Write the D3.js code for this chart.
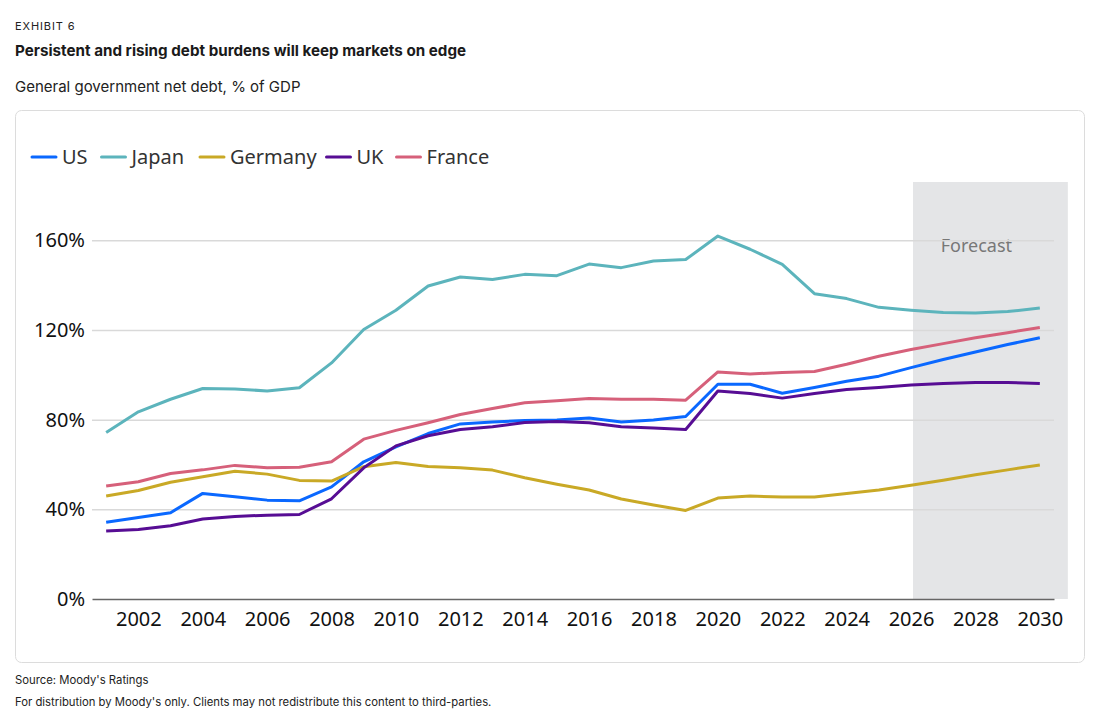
<!DOCTYPE html>
<html>
<head>
<meta charset="utf-8">
<script src="https://cdn.jsdelivr.net/npm/d3@7"></script>
<style>
  body { margin: 0; background: #fff; }
  svg { display: block; }
</style>
</head>
<body>
<svg id="chart"></svg>
<script>
var width = 1100,
    height = 716;

var years = d3.range(2001, 2031);
var seriesNames = ["US", "Japan", "Germany", "UK", "France"];
var seriesColors = ["#0a68ff", "#5cb4bc", "#c9a926", "#570d94", "#d6607a"];

var us = [34.2, 36.4, 38.5, 47.1, 45.6, 44.1, 43.8, 50.0, 61.2, 67.9,
          73.8, 78.1, 78.9, 79.6, 79.8, 80.7, 79.0, 79.8, 81.4, 95.8,
          95.8, 91.8, 94.3, 97.1, 99.4, 103.2, 106.8, 110.2, 113.5, 116.5];
var japan = [74.3, 83.5, 89.1, 93.9, 93.7, 92.8, 94.2, 105.3, 120.2, 128.8,
             139.6, 143.6, 142.5, 144.8, 144.2, 149.4, 147.8, 150.8, 151.4, 161.9,
             156.0, 149.3, 136.2, 134.0, 130.1, 128.8, 127.8, 127.6, 128.2, 129.8];
var germany = [45.9, 48.4, 52.1, 54.5, 57.0, 55.7, 52.9, 52.6, 59.0, 60.9,
               59.1, 58.5, 57.5, 54.1, 51.2, 48.6, 44.6, 41.9, 39.5, 45.0,
               45.9, 45.5, 45.5, 47.1, 48.6, 50.7, 53.0, 55.4, 57.6, 59.8];
var uk = [30.3, 31.0, 32.7, 35.7, 36.8, 37.4, 37.7, 44.7, 58.5, 68.3,
          72.8, 75.6, 76.8, 78.7, 79.2, 78.6, 76.8, 76.3, 75.6, 92.8,
          91.7, 89.6, 91.7, 93.4, 94.3, 95.5, 96.1, 96.6, 96.6, 96.1];
var france = [50.4, 52.3, 56.0, 57.6, 59.6, 58.5, 58.8, 61.2, 71.3, 75.2,
              78.6, 82.3, 85.0, 87.5, 88.4, 89.4, 89.1, 89.1, 88.7, 101.3,
              100.4, 101.0, 101.5, 104.7, 108.3, 111.3, 113.9, 116.5, 118.8, 121.1];

var yTicks = [0, 40, 80, 120, 160];
var xTicks = [2002, 2004, 2006, 2008, 2010, 2012, 2014, 2016, 2018, 2020, 2022, 2024, 2026, 2028, 2030];
var forecastSpan = [2026.06, 2030.87];
var forecastLabelYear = 2028;

var seriesValues = [us, japan, germany, uk, france];
var series = seriesNames.map(function(name, i) {
    return { name: name, color: seriesColors[i],
             values: years.map(function(y, j) { return [y, seriesValues[i][j]]; }) };
});

var svg = d3.select("#chart").attr("width", width).attr("height", height);

// header
var headFont = "Inter, 'Liberation Sans', sans-serif";
svg.append("text").attr("x", 15).attr("y", 29.5)
    .style("font-family", headFont).style("font-size", "11px").style("letter-spacing", "0.9px")
    .style("fill", "#222").text("EXHIBIT 6");
svg.append("text").attr("x", 15).attr("y", 55.5)
    .style("font-family", headFont).style("font-size", "15.2px").style("font-weight", "700")
    .style("fill", "#1a1a1a").text("Persistent and rising debt burdens will keep markets on edge");
svg.append("text").attr("x", 15).attr("y", 92)
    .style("font-family", headFont).style("font-size", "15px")
    .style("fill", "#222").text("General government net debt, % of GDP");

// card
svg.append("rect")
    .attr("x", 15.5).attr("y", 110.5)
    .attr("width", 1069).attr("height", 552)
    .attr("rx", 6)
    .style("fill", "#fff").style("stroke", "#dcdcdc");

// footer
svg.append("text").attr("x", 15).attr("y", 684)
    .style("font-family", headFont).style("font-size", "11.3px")
    .style("fill", "#222").text("Source: Moody's Ratings");
svg.append("text").attr("x", 15).attr("y", 706)
    .style("font-family", headFont).style("font-size", "11.3px")
    .style("fill", "#222").text("For distribution by Moody's only. Clients may not redistribute this content to third-parties.");

var x = d3.scaleLinear().domain([2000.56, 2030.44]).range([92, 1054]);
var y = d3.scaleLinear().domain([0, 186]).range([599, 182]);

var chartFont = "'Noto Sans', 'Open Sans', sans-serif";

// forecast shading
svg.append("rect")
    .attr("x", x(forecastSpan[0]))
    .attr("y", y(186))
    .attr("width", x(forecastSpan[1]) - x(forecastSpan[0]))
    .attr("height", y(0) - y(186))
    .style("fill", "#e4e5e7");
svg.append("text")
    .attr("x", x(forecastLabelYear) + 1)
    .attr("y", y(160) + 5.5)
    .attr("dy", "0.35em")
    .attr("text-anchor", "middle")
    .style("font-family", chartFont).style("font-size", "18px")
    .style("fill", "#777").text("Forecast");

// gridlines + y labels
var yAxis = d3.axisLeft(y).tickValues(yTicks).tickSize(-(1054 - 92))
    .tickFormat(function(d) { return d + "%"; }).tickPadding(7);
var gy = svg.append("g").attr("transform", "translate(92,0)").call(yAxis);
gy.select(".domain").remove();
gy.selectAll(".tick line").style("stroke", "#d9d9d9").style("stroke-width", 1.5);
gy.selectAll(".tick text")
    .style("font-family", chartFont).style("font-size", "20px").style("fill", "#111");
gy.selectAll(".tick").filter(function(d) { return d === 0; }).select("line").remove();

// x axis
var xAxis = d3.axisBottom(x).tickValues(xTicks).tickSize(0).tickPadding(13)
    .tickFormat(d3.format("d"));
var gx = svg.append("g").attr("transform", "translate(0," + y(0) + ")").call(xAxis);
gx.select(".domain").style("stroke", "#666").style("stroke-width", 1.5);
gx.selectAll(".tick text")
    .style("font-family", chartFont).style("font-size", "20px").style("fill", "#111");

// lines
var line = d3.line()
    .x(function(d) { return x(d[0]); })
    .y(function(d) { return y(d[1]); });

svg.selectAll(".series").data(series)
    .enter()
    .append("path")
        .attr("class", "series")
        .attr("d", function(d) { return line(d.values); })
        .style("fill", "none")
        .style("stroke", function(d) { return d.color; })
        .style("stroke-width", 3)
        .style("stroke-linejoin", "round");

// legend
var legendX = [32, 101.5, 200, 326.5, 396.5];
var legend = svg.selectAll(".legend").data(series)
    .enter()
    .append("g")
        .attr("class", "legend")
        .attr("transform", function(d, i) { return "translate(" + legendX[i] + ",157)"; });
legend.append("line")
    .attr("x1", 0).attr("x2", 24)
    .style("stroke", function(d) { return d.color; })
    .style("stroke-width", 3)
    .style("stroke-linecap", "round");
legend.append("text")
    .attr("x", 30).attr("dy", "0.35em")
    .style("font-family", chartFont).style("font-size", "20px").style("fill", "#333")
    .text(function(d) { return d.name; });
</script>
</body>
</html>
